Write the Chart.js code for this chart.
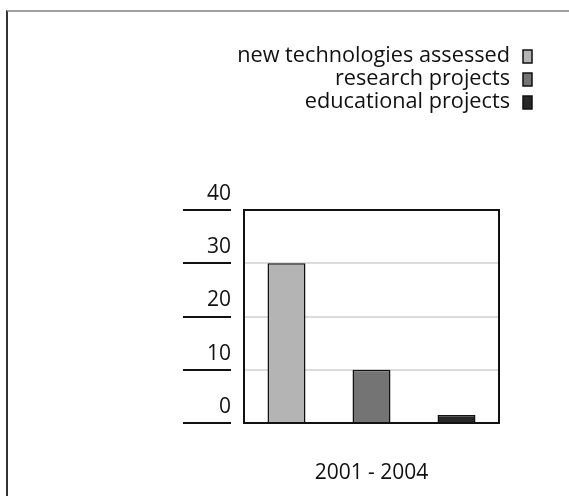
<!DOCTYPE html>
<html>
<head>
<meta charset="utf-8">
<script src="https://cdn.jsdelivr.net/npm/chart.js@4/dist/chart.umd.min.js"></script>
<style>
  html, body { margin: 0; padding: 0; background: #fff; }
  #wrap { position: relative; width: 569px; height: 496px; overflow: hidden; }
  #frame {
    position: absolute; left: 6px; top: 10px; right: -4px; bottom: -4px;
    border-top: 2px solid #a0a0a0; border-left: 2px solid #333;
  }
  #chart { position: absolute; left: 0; top: 0; }
</style>
</head>
<body>
<div id="wrap">
  <div id="frame"></div>
  <canvas id="chart" width="569" height="496"></canvas>
</div>
<script>
// données
const periods = ['2001 - 2004'];
const seriesNames = ['new technologies assessed', 'research projects', 'educational projects'];
const seriesValues = [30, 10, 1.5];
const seriesColors = ['#b4b4b4', '#747474', '#272727'];
const yTicks = [0, 10, 20, 30, 40];

const FONT = '"Open Sans", sans-serif';
const TEXT = '#111';

// légende maison : texte aligné à droite, carré à droite du texte
const rightLegend = {
  id: 'rightLegend',
  afterDraw(chart, args, opts) {
    const ctx = chart.ctx;
    ctx.save();
    ctx.font = opts.fontSize + 'px ' + FONT;
    ctx.textAlign = 'right';
    ctx.textBaseline = 'middle';
    chart.data.datasets.forEach((ds, i) => {
      const y = opts.top + i * opts.rowHeight;
      ctx.fillStyle = TEXT;
      ctx.fillText(ds.label, opts.right, y);
      ctx.fillStyle = ds.backgroundColor;
      ctx.fillRect(opts.right + 13, y - 6, 9, 13);
      ctx.lineWidth = 1.5;
      ctx.strokeStyle = '#111';
      ctx.strokeRect(opts.right + 13, y - 6, 9, 13);
    });
    ctx.restore();
  }
};

// cadre du graphique + petits traits noirs de l'axe Y
const plotFrame = {
  id: 'plotFrame',
  afterDraw(chart) {
    const { ctx, chartArea: a } = chart;
    const ys = chart.scales.y;
    ctx.save();
    ctx.strokeStyle = '#111';
    ctx.lineWidth = 2;
    ctx.strokeRect(a.left, a.top, a.right - a.left, a.bottom - a.top);
    ys.ticks.forEach(t => {
      const y = Math.round(ys.getPixelForValue(t.value));
      ctx.beginPath();
      ctx.moveTo(a.left - 61, y);
      ctx.lineTo(a.left - 13, y);
      ctx.stroke();
    });
    ctx.restore();
  }
};

new Chart(document.getElementById('chart'), {
  type: 'bar',
  data: {
    labels: periods,
    datasets: seriesNames.map((name, i) => ({
      label: name,
      data: [seriesValues[i]],
      backgroundColor: seriesColors[i],
      borderColor: '#111',
      borderWidth: 1.5,
      categoryPercentage: 1,
      barPercentage: 0.447
    }))
  },
  options: {
    responsive: false,
    animation: false,
    layout: { padding: { top: 210, right: 70, left: 0, bottom: 0 } },
    plugins: {
      legend: { display: false },
      tooltip: { enabled: false },
      rightLegend: { right: 510, top: 56, rowHeight: 23, fontSize: 21.7 }
    },
    scales: {
      x: {
        grid: { display: false },
        border: { display: false },
        ticks: { color: TEXT, font: { family: FONT, size: 21 }, padding: 29 },
        afterFit: s => { s.height = 73; }
      },
      y: {
        min: 0,
        max: 40,
        afterBuildTicks: s => { s.ticks = yTicks.map(v => ({ value: v })); },
        grid: { color: '#dcdcdc', lineWidth: 2, drawTicks: false },
        border: { display: false },
        ticks: {
          color: TEXT,
          font: { family: FONT, size: 21 },
          padding: 13,
          labelOffset: -16
        },
        afterFit: s => { s.width = 244; }
      }
    }
  },
  plugins: [rightLegend, plotFrame]
});
</script>
</body>
</html>
